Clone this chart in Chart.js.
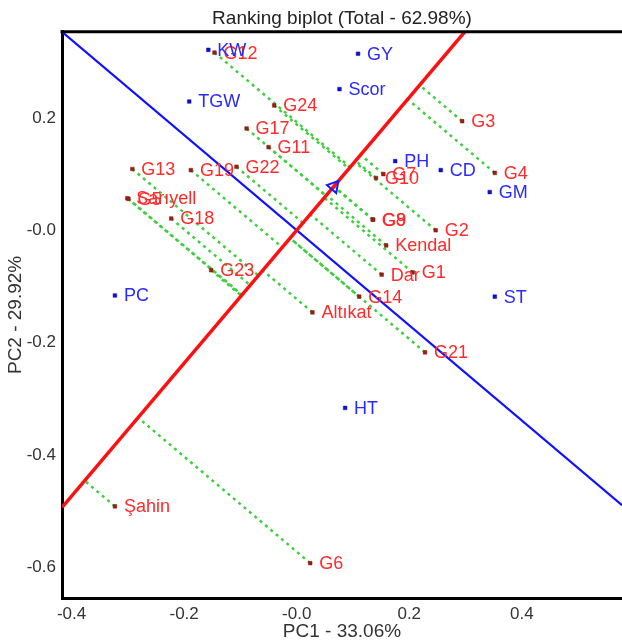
<!DOCTYPE html>
<html>
<head>
<meta charset="utf-8">
<script src="https://cdn.jsdelivr.net/npm/chart.js@4.4.0/dist/chart.umd.min.js"></script>
<style>
  html, body { margin: 0; padding: 0; background: #fff; overflow: hidden; }
  canvas { display: block; }
</style>
</head>
<body>
<canvas id="biplot" width="622" height="644"></canvas>
<script>
// genotypes (red) - PC1 / PC2 scores
const genoNames = ["G12", "G24", "G17", "G11", "G13", "G19", "G22", "Sarıyell", "G5", "G18", "G23", "Altıkat",
  "G3", "G4", "G7", "G10", "G8", "G9", "G2", "Kendal", "Dar", "G1", "G14", "G21", "Şahin", "G6"];
const genoPC1 = [-0.146, -0.040, -0.089, -0.050, -0.292, -0.188, -0.107, -0.301, -0.299, -0.223, -0.152, 0.028,
  0.294, 0.352, 0.154, 0.141, 0.135, 0.136, 0.247, 0.159, 0.151, 0.206, 0.111, 0.228, -0.323, 0.024];
const genoPC2 = [0.316, 0.222, 0.181, 0.148, 0.109, 0.107, 0.113, 0.057, 0.056, 0.021, -0.071, -0.146,
  0.194, 0.102, 0.100, 0.093, 0.019, 0.019, 0.000, -0.027, -0.079, -0.075, -0.118, -0.217, -0.491, -0.592];

// traits (blue)
const traitNames = ["KW", "GY", "Scor", "TGW", "PH", "CD", "GM", "ST", "HT", "PC"];
const traitPC1 = [-0.157, 0.109, 0.076, -0.191, 0.175, 0.256, 0.343, 0.352, 0.086, -0.323];
const traitPC2 = [0.321, 0.314, 0.251, 0.229, 0.123, 0.107, 0.068, -0.118, -0.316, -0.116];

// average environment coordinate (arrow on the red axis)
const aec = [0.066, 0.078];

const xTickVals = [-0.4, -0.2, 0.0, 0.2, 0.4];
const xTickLabels = ["-0.4", "-0.2", "-0.0", "0.2", "0.4"];
const yTickVals = [-0.6, -0.4, -0.2, 0.0, 0.2];
const yTickLabels = ["-0.6", "-0.4", "-0.2", "-0.0", "0.2"];

const xMin = -0.417, xMax = 0.578, yMin = -0.654, yMax = 0.353;

const slope = aec[1] / aec[0];        // red line (ATC abscissa)
const perp = -1 / slope;              // blue line (ATC ordinate)

// projection of each genotype on the red line
function foot(x, y) {
  const t = (x + slope * y) / (1 + slope * slope);
  return { x: t, y: slope * t };
}

const datasets = [];

// points on top
datasets.push({
  label: "genotypes",
  data: genoNames.map((n, i) => ({ x: genoPC1[i], y: genoPC2[i] })),
  pointStyle: "rect",
  pointRadius: 2.6,
  backgroundColor: "#a01818",
  borderColor: "#7a2a10",
  borderWidth: 0.5,
  order: 0
});
datasets.push({
  label: "traits",
  data: traitNames.map((n, i) => ({ x: traitPC1[i], y: traitPC2[i] })),
  pointStyle: "rect",
  pointRadius: 2.6,
  backgroundColor: "#1010c8",
  borderColor: "#1010c8",
  borderWidth: 0.5,
  order: 0
});
datasets.push({
  label: "aec",
  data: [{ x: aec[0], y: aec[1] }],
  pointStyle: "triangle",
  pointRadius: 7,
  rotation: Math.atan(1 / slope) * 180 / Math.PI,
  backgroundColor: "rgba(0,0,0,0)",
  borderColor: "#1a1aff",
  borderWidth: 2,
  order: 0
});

// red and blue axes
datasets.push({
  label: "atc",
  data: [{ x: xMin, y: slope * xMin }, { x: xMax, y: slope * xMax }],
  showLine: true,
  borderColor: "#ff1010",
  borderWidth: 3.5,
  pointRadius: 0,
  order: 1
});
datasets.push({
  label: "ord",
  data: [{ x: xMin, y: perp * xMin }, { x: xMax, y: perp * xMax }],
  showLine: true,
  borderColor: "#1010ff",
  borderWidth: 2.2,
  pointRadius: 0,
  order: 1
});

// green dotted projections
genoNames.forEach((n, i) => {
  const f = foot(genoPC1[i], genoPC2[i]);
  datasets.push({
    label: "proj " + n,
    data: [{ x: genoPC1[i], y: genoPC2[i] }, f],
    showLine: true,
    borderColor: "#3fcf3f",
    borderWidth: 2.5,
    borderDash: [3, 4],
    pointRadius: 0,
    order: 2
  });
});

const labelPlugin = {
  id: "labels",
  afterDatasetsDraw(chart) {
    const ctx = chart.ctx;
    const xs = chart.scales.x, ys = chart.scales.y;
    const a = chart.chartArea;
    ctx.save();
    ctx.font = "18px 'Liberation Sans', Arial, sans-serif";
    ctx.textBaseline = "middle";
    ctx.textAlign = "left";
    ctx.fillStyle = "#ff2a2a";
    genoNames.forEach((n, i) => {
      ctx.fillText(n, xs.getPixelForValue(genoPC1[i]) + 9, ys.getPixelForValue(genoPC2[i]) + 1);
    });
    ctx.fillStyle = "#2a2aff";
    traitNames.forEach((n, i) => {
      ctx.fillText(n, xs.getPixelForValue(traitPC1[i]) + 9, ys.getPixelForValue(traitPC2[i]) + 1);
    });
    // top frame line
    ctx.strokeStyle = "#000";
    ctx.lineWidth = 3;
    ctx.beginPath();
    ctx.moveTo(a.left - 1.5, a.top);
    ctx.lineTo(a.right, a.top);
    ctx.stroke();
    ctx.restore();
  }
};

new Chart(document.getElementById("biplot"), {
  type: "scatter",
  data: { datasets: datasets },
  options: {
    responsive: false,
    animation: false,
    devicePixelRatio: 1,
    layout: { padding: 0, autoPadding: false },
    plugins: {
      legend: { display: false },
      tooltip: { enabled: false },
      title: {
        display: true,
        fullSize: false,
        text: "Ranking biplot (Total - 62.98%)",
        color: "#222",
        font: { family: "'Liberation Sans', Arial, sans-serif", size: 19, weight: "normal" },
        padding: { top: 7, bottom: 2 }
      }
    },
    scales: {
      x: {
        type: "linear",
        min: xMin,
        max: xMax,
        grid: { display: false, drawTicks: false },
        border: { display: true, color: "#000", width: 3 },
        afterBuildTicks: s => { s.ticks = xTickVals.map(v => ({ value: v })); },
        afterFit: s => { s.height = 46; s.paddingLeft = 0; s.paddingRight = 0; },
        ticks: {
          color: "#333",
          padding: 6,
          maxRotation: 0,
          font: { family: "'Liberation Sans', Arial, sans-serif", size: 17 },
          callback: (v, i) => xTickLabels[i]
        },
        title: {
          display: true,
          text: "PC1 - 33.06%",
          color: "#333",
          font: { family: "'Liberation Sans', Arial, sans-serif", size: 19 },
          padding: { top: 0, bottom: 1 }
        }
      },
      y: {
        type: "linear",
        min: yMin,
        max: yMax,
        grid: { display: false, drawTicks: false },
        border: { display: true, color: "#000", width: 3 },
        afterBuildTicks: s => { s.ticks = yTickVals.map(v => ({ value: v })); },
        afterFit: s => { s.width = 62; s.paddingTop = 0; s.paddingBottom = 0; },
        ticks: {
          color: "#333",
          padding: 6,
          font: { family: "'Liberation Sans', Arial, sans-serif", size: 17 },
          callback: (v, i) => yTickLabels[i]
        },
        title: {
          display: true,
          text: "PC2 - 29.92%",
          color: "#333",
          font: { family: "'Liberation Sans', Arial, sans-serif", size: 19 },
          padding: { top: 4, bottom: 0 }
        }
      }
    }
  },
  plugins: [labelPlugin]
});
</script>
</body>
</html>
